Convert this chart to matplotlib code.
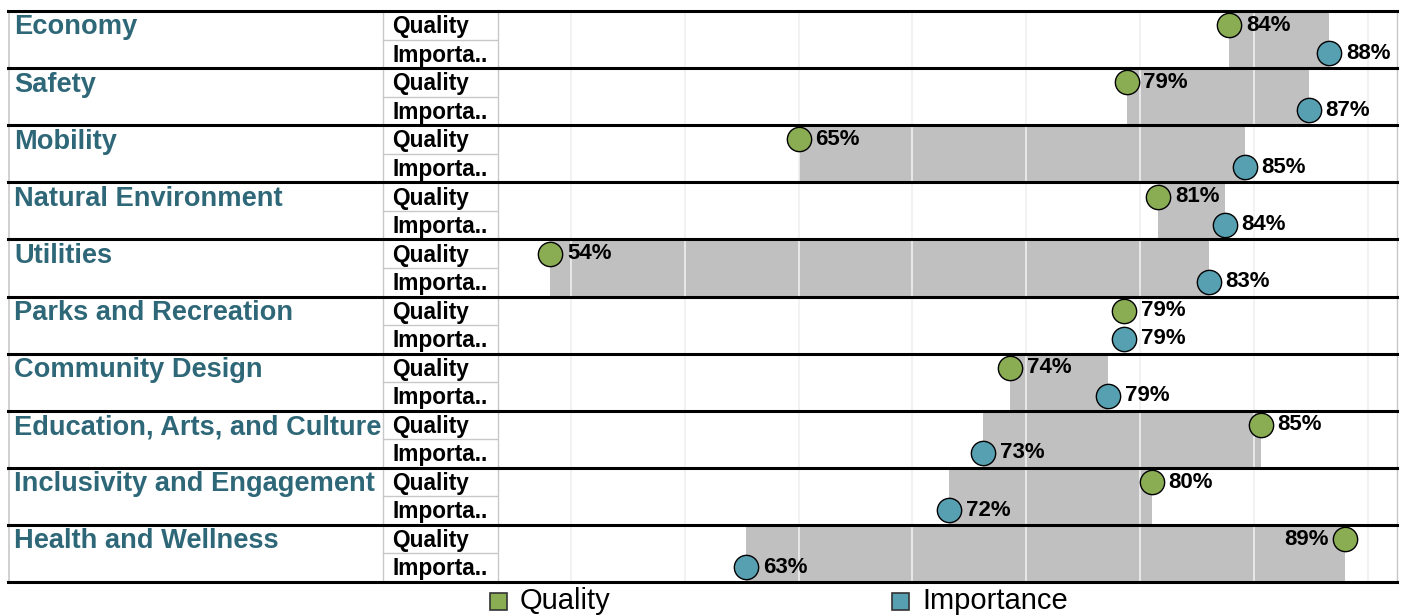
import numpy as np
import matplotlib.pyplot as plt
from matplotlib.patches import Rectangle

plt.rcParams['font.family'] = ['Liberation Sans', 'DejaVu Sans']

# data (percent)
categories = ['Economy', 'Safety', 'Mobility', 'Natural Environment', 'Utilities',
              'Parks and Recreation', 'Community Design', 'Education, Arts, and Culture',
              'Inclusivity and Engagement', 'Health and Wellness']
quality = [83.9, 79.4, 65.0, 80.8, 54.1, 79.3, 74.3, 85.3, 80.5, 89.0]
importance = [88.3, 87.4, 84.6, 83.7, 83.0, 79.3, 78.6, 73.1, 71.6, 62.7]
sub_labels = ['Quality', 'Importa..']

green = '#8aac52'
blue = '#56a0b2'
cat_color = '#2e6878'
grid_gray = '#c8c8c8'

W, H = 1401, 615
fig = plt.figure(figsize=(W / 100, H / 100), dpi=100)

top_px, bot_px = 11, 582
plot_l, plot_r = 498, 1397
tab_l = 8
bottom = 1 - bot_px / H
height = (bot_px - top_px) / H

ax = fig.add_axes([plot_l / W, bottom, (plot_r - plot_l) / W, height])
tax = fig.add_axes([tab_l / W, bottom, (plot_l - tab_l) / W, height])

n = len(categories)
for a in (ax, tax):
    a.set_ylim(n, 0)
    for s in a.spines.values():
        s.set_visible(False)
    a.tick_params(left=False, bottom=False, labelleft=False, labelbottom=False)

# --- plot area ---
ax.set_xlim(51.81, 91.27)
ax.set_xticks(np.arange(55, 91, 5))
ax.set_axisbelow(False)
ax.grid(axis='x', color='#f0f0f0', lw=1.2)
ax.set_yticks([])

lo = np.minimum(quality, importance)
hi = np.maximum(quality, importance)
ax.barh(np.arange(n) + 0.5, hi - lo, left=lo, height=1.0, color='#c0c0c0', zorder=1)

yq = np.arange(n) + 0.25
yi = np.arange(n) + 0.74
ax.plot(quality, yq, 'o', ms=17.5, mfc=green, mec='black', mew=1.0, zorder=4, ls='none')
ax.plot(importance, yi, 'o', ms=17.5, mfc=blue, mec='black', mew=1.0, zorder=4, ls='none')

for i in range(n):
    for v, y in ((quality[i], yq[i]), (importance[i], yi[i])):
        if v > 88.5:
            ax.annotate(f'{v:.0f}%', (v, y), xytext=(-12, 0), textcoords='offset points',
                        ha='right', va='center', fontsize=16, fontweight='bold', zorder=5)
        else:
            ax.annotate(f'{v:.0f}%', (v, y), xytext=(12, 0), textcoords='offset points',
                        ha='left', va='center', fontsize=16, fontweight='bold', zorder=5)

for k in range(n + 1):
    ax.axhline(k, color='black', lw=2.2, zorder=6, clip_on=False)
ax.axvline(91.27, color=grid_gray, lw=1, clip_on=False)

# --- table on the left ---
tax.set_xlim(tab_l, plot_l)
for i, cat in enumerate(categories):
    tax.text(14, i + 0.41, cat, fontsize=19.6, fontweight='bold', color=cat_color,
             ha='left', va='baseline')
    tax.text(392, i + 0.39, sub_labels[0], fontsize=16.3, fontweight='bold', ha='left', va='baseline')
    tax.text(392, i + 0.885, sub_labels[1], fontsize=16.3, fontweight='bold', ha='left', va='baseline')
    tax.plot([383, plot_l], [i + 0.5, i + 0.5], color=grid_gray, lw=1)
tax.axvline(tab_l + 0.5, color=grid_gray, lw=1.2, clip_on=False)
tax.axvline(383, color=grid_gray, lw=1)
tax.axvline(plot_l - 0.5, color=grid_gray, lw=1, clip_on=False)
for k in range(n + 1):
    tax.axhline(k, color='black', lw=2.2, zorder=6, clip_on=False)

# --- legend ---
for x0, col, lab in ((490, green, 'Quality'), (892, blue, 'Importance')):
    fig.patches.append(Rectangle((x0 / W, 1 - 610 / H), 17 / W, 17 / H, transform=fig.transFigure,
                                 facecolor=col, edgecolor='#333333', lw=1.2))
    fig.text((x0 + 30) / W, 1 - 601 / H, lab, fontsize=21, ha='left', va='center')

fig.savefig('out.png', dpi=100)
